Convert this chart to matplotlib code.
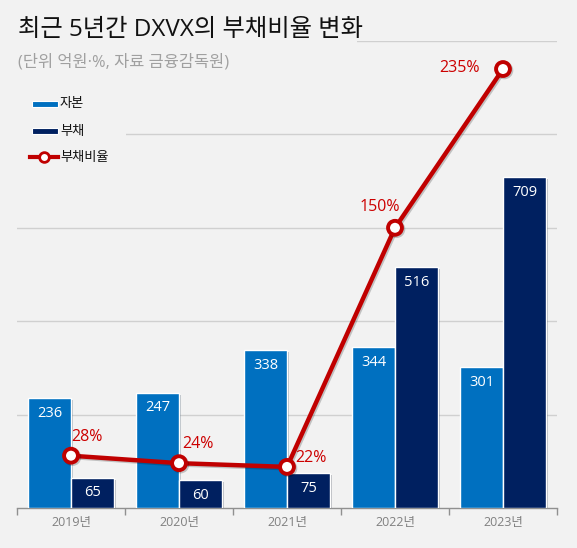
import matplotlib
matplotlib.use("Agg")
import matplotlib.pyplot as plt
from matplotlib.patches import Rectangle
from matplotlib.lines import Line2D
import matplotlib.patheffects as pe
import numpy as np

plt.rcParams['font.family'] = ['Open Sans', 'Noto Sans CJK KR', 'DejaVu Sans']

years = ['2019년', '2020년', '2021년', '2022년', '2023년']
equity = [236, 247, 338, 344, 301]
debt = [65, 60, 75, 516, 709]
ratio = [28, 24, 22, 150, 235]
ratio_labels = ['28%', '24%', '22%', '150%', '235%']

BG = '#F2F2F2'
C_EQ = '#0070C0'
C_DEBT = '#002060'
C_LINE = '#C00000'

fig = plt.figure(figsize=(5.77, 5.48), dpi=100, facecolor=BG)
ax = fig.add_axes([17/577, 1-508/548, 540/577, 467/548])
ax.set_facecolor(BG)

x = np.arange(len(years))
w = 0.4
shadow = [pe.SimplePatchShadow(offset=(1.5, -1.5), alpha=0.25), pe.Normal()]
b1 = ax.bar(x - w/2, equity, w, color=C_EQ, edgecolor='white', linewidth=1, zorder=3, path_effects=shadow)
b2 = ax.bar(x + w/2, debt, w, color=C_DEBT, edgecolor='white', linewidth=1, zorder=3, path_effects=shadow)

for rect, v in list(zip(b1, equity)) + list(zip(b2, debt)):
    ax.annotate(str(v), (rect.get_x() + rect.get_width()/2, rect.get_height()),
                xytext=(0, -11), textcoords='offset points', ha='center', va='center',
                color='white', fontsize=10.5, zorder=5)

ax2 = ax.twinx()
ax2.set_ylim(0, 250)
ax2.axis('off')

ax.set_xlim(-0.5, len(years) - 0.5)
ax.set_ylim(0, 1000)
ax.set_yticks([200, 400, 600, 800, 1000])
ax.yaxis.grid(True, color='#D0D0D0', linewidth=1)
ax.set_axisbelow(True)
ax.tick_params(axis='y', left=False, right=False, labelleft=False, labelright=False)
for s in ['top', 'right', 'left']:
    ax.spines[s].set_visible(False)
ax.spines['bottom'].set_color('#909090')
ax.spines['bottom'].set_linewidth(1)
ax.set_xticks(x)
ax.set_xticklabels(years, color='#808080', fontsize=9)
ax.set_xticks(np.arange(-0.5, len(years)), minor=True)
ax.tick_params(axis='x', which='major', length=0, pad=6)
ax.tick_params(axis='x', which='minor', length=5, color='#909090', width=1)

ax2.plot(x, ratio, color=C_LINE, linewidth=3.2, marker='o', markersize=10,
         markerfacecolor='white', markeredgecolor=C_LINE, markeredgewidth=2.8, zorder=6,
         path_effects=[pe.SimpleLineShadow(offset=(1, -1), alpha=0.2), pe.Normal()])
offsets = [(11.5, 13.7), (13.7, 13.7), (17, 6.5), (-11, 15), (-31.5, 0.5)]
for xi, r, lab, off in zip(x, ratio, ratio_labels, offsets):
    ax2.annotate(lab, (xi, r), xytext=off, textcoords='offset points', ha='center', va='center',
                 color='#CC0000', fontsize=11.5, zorder=7)

# cover patches (title area and legend area)
fig.add_artist(Rectangle((0, 1-48/548), 357/577, 48/548, transform=fig.transFigure,
                         facecolor=BG, edgecolor='none', zorder=1))
fig.add_artist(Rectangle((0, 1-172/548), 126/577, 90/548, transform=fig.transFigure,
                         facecolor=BG, edgecolor='none', zorder=1))

fig.text(18/577, 1-30/548, '최근 5년간 DXVX의 부채비율 변화', fontsize=17.5, color='#111111',
         va='center', ha='left', zorder=2)
fig.text(18/577, 1-62/548, '(단위 억원·%, 자료 금융감독원)', fontsize=11.8, color='#A0A0A0',
         va='center', ha='left', zorder=2)

# legend
items = [('자본', C_EQ, 104), ('부채', C_DEBT, 131)]
for lab, col, yy in items:
    fig.add_artist(Rectangle((32/577, 1-(yy+3)/548), 26/577, 6/548, transform=fig.transFigure,
                             facecolor=col, edgecolor='white', linewidth=0.8, zorder=2))
    fig.text(60/577, 1-yy/548, lab, fontsize=9.5, color='#111111', va='center', ha='left', zorder=2)
yy = 157
fig.add_artist(Line2D([30/577, 58/577], [1-yy/548]*2, transform=fig.transFigure, color=C_LINE,
                      linewidth=3, zorder=2))
fig.add_artist(Line2D([44/577], [1-yy/548], transform=fig.transFigure, color=C_LINE, marker='o',
                      markersize=7, markerfacecolor='white', markeredgewidth=2, zorder=3))
fig.text(60/577, 1-yy/548, '부채비율', fontsize=9.5, color='#111111', va='center', ha='left', zorder=2)

fig.savefig('out.png', dpi=100, facecolor=BG)
